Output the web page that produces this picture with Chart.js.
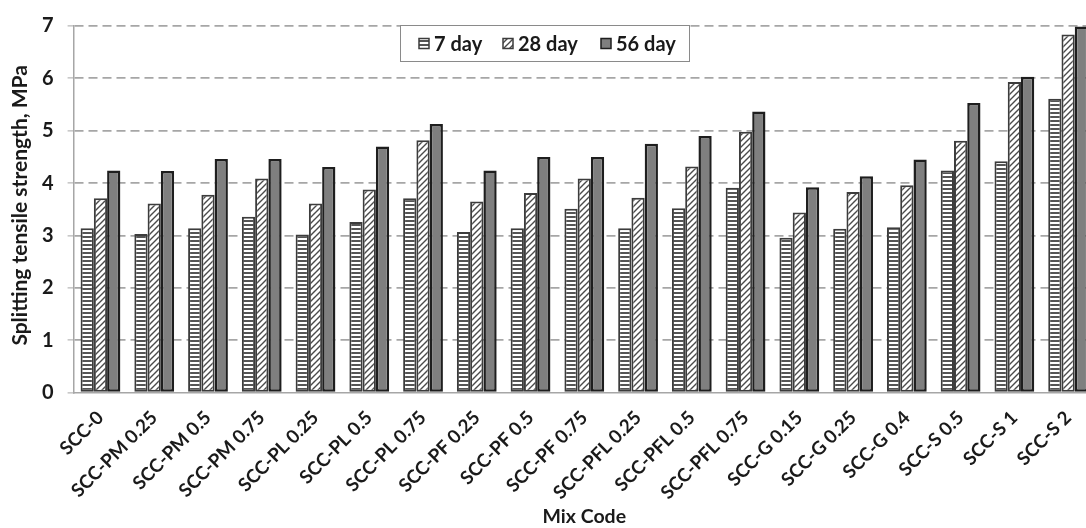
<!DOCTYPE html>
<html>
<head>
<meta charset="utf-8">
<script src="https://cdn.jsdelivr.net/npm/chart.js@4/dist/chart.umd.min.js"></script>
<style>
  html, body { margin: 0; padding: 0; background: #fff; overflow: hidden; }
  #wrap { width: 1096px; height: 528px; }
</style>
</head>
<body>
<div id="wrap"><canvas id="c" width="1096" height="528"></canvas></div>
<script>
// Mix designs and their splitting tensile strength (MPa) at three ages
const mixCodes = ['SCC-0', 'SCC-PM 0.25', 'SCC-PM 0.5', 'SCC-PM 0.75', 'SCC-PL 0.25', 'SCC-PL 0.5',
  'SCC-PL 0.75', 'SCC-PF 0.25', 'SCC-PF 0.5', 'SCC-PF 0.75', 'SCC-PFL 0.25', 'SCC-PFL 0.5',
  'SCC-PFL 0.75', 'SCC-G 0.15', 'SCC-G 0.25', 'SCC-G 0.4', 'SCC-S 0.5', 'SCC-S 1', 'SCC-S 2'];
const day7 = [3.14, 3.03, 3.14, 3.36, 3.02, 3.26, 3.71, 3.07, 3.14, 3.51, 3.14, 3.52, 3.91, 2.96, 3.13, 3.16, 4.24, 4.42, 5.61];
const day28 = [3.71, 3.61, 3.78, 4.09, 3.61, 3.88, 4.82, 3.65, 3.81, 4.09, 3.72, 4.32, 4.98, 3.44, 3.83, 3.96, 4.81, 5.93, 6.84];
const day56 = [4.24, 4.23, 4.46, 4.46, 4.31, 4.70, 5.13, 4.24, 4.50, 4.50, 4.75, 4.90, 5.37, 3.92, 4.13, 4.45, 5.53, 6.03, 6.99];
const seriesNames = ['7 day', '28 day', '56 day'];
const yTicks = [0, 1, 2, 3, 4, 5, 6, 7];
const yTitle = 'Splitting tensile strength, MPa';
const xTitle = 'Mix Code';

const FONT = 'Lato, "Open Sans", sans-serif';
const INK = '#1a1a1a';

// Fill patterns: horizontal stripes and forward-slash hatching
function stripes() {
  const c = document.createElement('canvas');
  c.width = 4; c.height = 4;
  const g = c.getContext('2d');
  g.fillStyle = '#ffffff'; g.fillRect(0, 0, 4, 4);
  g.fillStyle = '#555555'; g.fillRect(0, 0, 4, 2);
  return g.createPattern(c, 'repeat');
}
function hatch() {
  const s = 6;
  const c = document.createElement('canvas');
  c.width = s; c.height = s;
  const g = c.getContext('2d');
  g.fillStyle = '#ffffff'; g.fillRect(0, 0, s, s);
  g.strokeStyle = '#4a4a4a'; g.lineWidth = 1.4;
  g.beginPath();
  g.moveTo(-1, s + 1); g.lineTo(s + 1, -1);
  g.moveTo(-1, 1); g.lineTo(1, -1);
  g.moveTo(s - 1, s + 1); g.lineTo(s + 1, s - 1);
  g.stroke();
  return g.createPattern(c, 'repeat');
}

const fills = [stripes(), hatch(), '#7f7f7f'];
const borders = ['#3c3c3c', '#3c3c3c', '#1e1e1e'];
const values = [day7, day28, day56];

// Boxed legend drawn inside the plot area
const boxLegend = {
  id: 'boxLegend',
  afterDraw(chart) {
    const ctx = chart.ctx;
    const bx = 400.5, by = 25.5, bw = 289, bh = 36;
    ctx.save();
    ctx.fillStyle = '#ffffff';
    ctx.fillRect(bx, by, bw, bh);
    ctx.strokeStyle = '#8a8a8a';
    ctx.lineWidth = 1;
    ctx.strokeRect(bx, by, bw, bh);
    ctx.font = 'bold 20px ' + FONT;
    ctx.textBaseline = 'middle';
    const starts = [419, 503, 601];
    chart.data.datasets.forEach((ds, i) => {
      const x = starts[i], y = by + bh / 2;
      const sz = 10;
      ctx.fillStyle = ds.backgroundColor;
      ctx.fillRect(x, y - sz / 2, sz, sz);
      ctx.strokeStyle = ds.borderColor;
      ctx.lineWidth = 1.5;
      ctx.strokeRect(x, y - sz / 2, sz, sz);
      ctx.fillStyle = INK;
      ctx.textAlign = 'left';
      ctx.fillText(ds.label, x + 15, y + 1);
    });
    ctx.restore();
  }
};

// Vertical axis title, set a little above the plot's mid-height
const yAxisTitle = {
  id: 'yAxisTitle',
  afterDraw(chart) {
    const ctx = chart.ctx;
    const a = chart.chartArea;
    ctx.save();
    ctx.translate(20, (a.top + a.bottom) / 2 - 4);
    ctx.rotate(-Math.PI / 2);
    ctx.font = 'bold 21px ' + FONT;
    ctx.fillStyle = INK;
    ctx.textAlign = 'center';
    ctx.textBaseline = 'middle';
    ctx.fillText(yTitle, 0, 0);
    ctx.restore();
  }
};

new Chart(document.getElementById('c'), {
  type: 'bar',
  data: {
    labels: mixCodes,
    datasets: seriesNames.map((name, i) => ({
      label: name,
      data: values[i],
      backgroundColor: fills[i],
      borderColor: borders[i],
      borderWidth: i === 2 ? 2.5 : 2,
      borderSkipped: false,
      categoryPercentage: 0.74,
      barPercentage: 1.0
    }))
  },
  options: {
    responsive: false,
    animation: false,
    devicePixelRatio: 1,
    layout: { padding: { top: 16, right: 1, left: 0, bottom: 0 } },
    plugins: { legend: { display: false }, tooltip: { enabled: false } },
    scales: {
      x: {
        grid: { display: false },
        border: { display: true, color: '#a6a6a6', width: 1.5 },
        ticks: {
          color: INK,
          font: { family: FONT, size: 18.7, weight: 'bold' },
          minRotation: 45, maxRotation: 45,
          autoSkip: false,
          padding: 6
        },
        title: {
          display: true, text: xTitle, color: INK,
          font: { family: FONT, size: 19.5, weight: 'bold' },
          padding: { top: 0, bottom: 0 }
        },
        afterFit(scale) { scale.height = 135.3; scale.paddingLeft = 0; scale.paddingRight = 0; }
      },
      y: {
        min: 0, max: 7,
        afterBuildTicks(scale) { scale.ticks = yTicks.map(v => ({ value: v })); },
        grid: {
          color: ctx => ctx.tick && ctx.tick.value === 0 ? 'rgba(0,0,0,0)' : '#a6a6a6',
          lineWidth: 1.8,
          tickLength: 6,
          tickColor: '#a6a6a6',
          tickWidth: 1,
          tickBorderDash: []
        },
        border: { display: true, color: '#a6a6a6', width: 1.5, dash: [9, 5] },
        ticks: {
          color: INK,
          font: { family: FONT, size: 20, weight: 'bold' },
          padding: 14
        },
        title: { display: false },
        afterFit(scale) { scale.width = 73.6; }
      }
    }
  },
  plugins: [boxLegend, yAxisTitle]
});
</script>
</body>
</html>
